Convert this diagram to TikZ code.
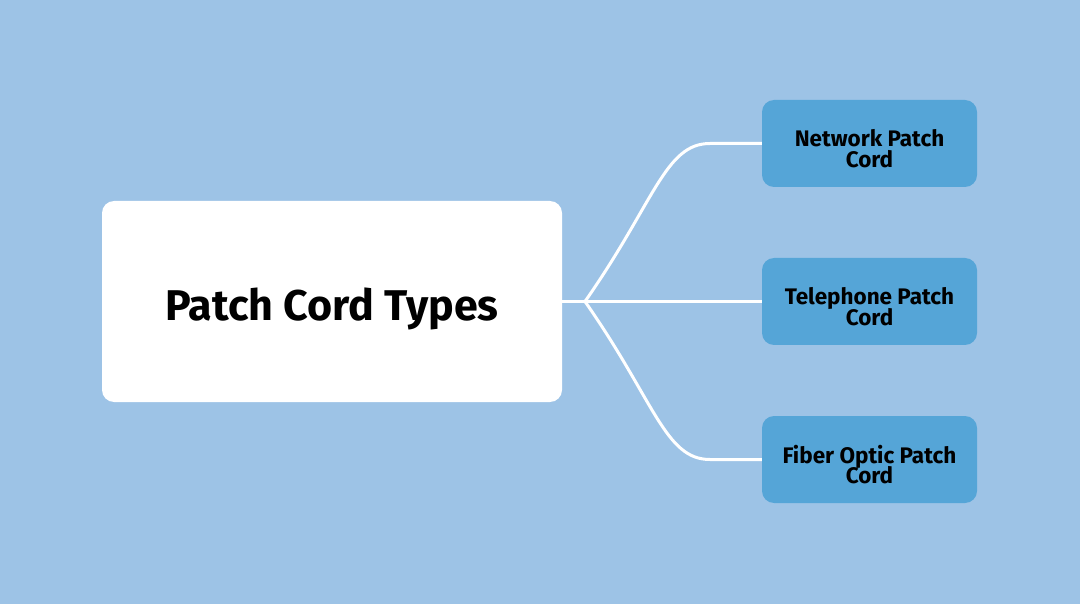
\documentclass[tikz,border=0pt]{standalone}
\usepackage{fontspec}
\setmainfont{Fira Sans}
\usepackage{xcolor}
\definecolor{bgblue}{HTML}{9DC3E6}
\definecolor{leafblue}{HTML}{55A5D7}

\begin{document}
\begin{tikzpicture}[x=1pt, y=-1pt,
	root/.style = {fill=white, rounded corners=12pt, minimum width=460pt, minimum height=201pt, inner sep=0pt, text height=37pt, text depth=0pt, font=\bfseries\fontsize{43}{46}\selectfont},
	leaf/.style = {fill=leafblue, rounded corners=12pt, minimum width=215pt, minimum height=87pt, inner sep=0pt, text height=20pt, text depth=13pt, font=\bfseries\fontsize{22.5}{21}\selectfont},
	wire/.style = {draw=white, line width=3pt}]
	\fill[bgblue] (0,0) rectangle (1080,604);
	\useasboundingbox (0,0) rectangle (1080,604);
	\node[root] (root) at (332,301.5) {Patch Cord Types};
	\node[leaf] (net) at (869.5,143.5) {\begin{tabular}[t]{@{}c@{}}Network Patch\\[-3pt]Cord\end{tabular}};
	\node[leaf] (tel) at (869.5,301.5) {\begin{tabular}[t]{@{}c@{}}Telephone Patch\\[-3pt]Cord\end{tabular}};
	\node[leaf] (fib) at (869.5,459.5) {\begin{tabular}[t]{@{}c@{}}Fiber Optic Patch\\[-3pt]Cord\end{tabular}};
	\coordinate (fork) at (585,301.5);
	\coordinate (netbend) at (710,143.5);
	\coordinate (fibbend) at (710,459.5);
	\draw[wire] (root.east) -- (fork) -- (tel.west);
	\draw[wire] (fork) .. controls +(70,-100) and +(-45,0) .. (netbend) -- (net.west);
	\draw[wire] (fork) .. controls +(70,100) and +(-45,0) .. (fibbend) -- (fib.west);
\end{tikzpicture}
\end{document}
